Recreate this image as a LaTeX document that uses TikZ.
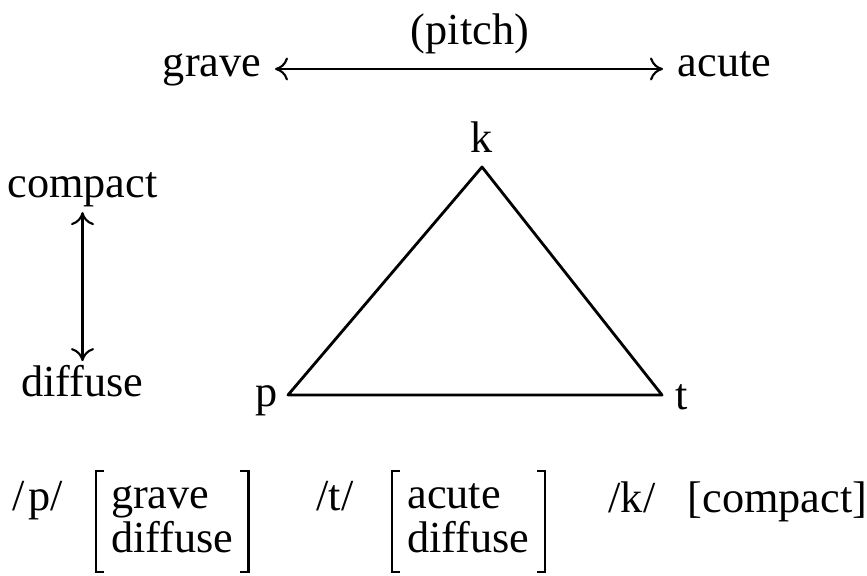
\documentclass[tikz,border=0pt]{standalone}
\usepackage{fontspec}
\setmainfont{Liberation Serif}
\usetikzlibrary{arrows.meta, positioning}

\begin{document}
\begin{tikzpicture}[
    every node/.style={font=\fontsize{12.6pt}{12.8pt}\selectfont, inner sep=0pt},
    lbl/.style={anchor=base},
    feat/.style={inner xsep=0.145cm, inner ysep=0.05cm},
    brk/.style={line width=0.7pt},
    edge/.style={line width=0.8pt, line join=round},
    arrow/.style={{Computer Modern Rightarrow[length=1.3mm, width=2.3mm]}-{Computer Modern Rightarrow[length=1.3mm, width=2.3mm]}, line width=0.6pt}
]
\useasboundingbox (0,0) rectangle (8.67,5.75);

% Nodes
\node[lbl] (pitch) at (4.70,5.30) {(pitch)};
\node[lbl, anchor=base east] (grave) at (2.62,4.98) {grave};
\node[lbl, anchor=base west] (acute) at (6.77,4.98) {acute};

\coordinate (kv) at (4.82,4.08);
\coordinate (pv) at (2.88,1.80);
\coordinate (tv) at (6.62,1.80);
\node[lbl] (k) at (4.82,4.22) {k};
\node[lbl, anchor=base east] (p) at (2.78,1.68) {p};
\node[lbl, anchor=base west] (t) at (6.75,1.65) {t};

\node[lbl] (compact) at (0.825,3.77) {compact};
\node[lbl] (diffuse) at (0.825,1.78) {diffuse};

\node[lbl] (pp) at (0.38,0.65) {/\kern1pt p/};
\node[feat, right=0.32cm of pp.base east, anchor=base west, yshift=0.02cm] (pfeat)
    {\begin{tabular}[t]{@{}l@{}}grave\\diffuse\end{tabular}};
\node[lbl] (tp) at (3.35,0.65) {/t/};
\node[feat, right=0.38cm of tp.base east, anchor=base west, yshift=0.02cm] (tfeat)
    {\begin{tabular}[t]{@{}l@{}}acute\\diffuse\end{tabular}};
\node[lbl] (kp) at (6.32,0.62) {/k/};
\node[lbl, anchor=base west] (kfeat) at (6.87,0.62) {[compact]};

% Paths
\draw[arrow] ([shift={(0.13,0.08)}]grave.base east) -- ([shift={(-0.14,0.08)}]acute.base west);
\draw[arrow] ([yshift=-0.04cm]compact.south) -- ([yshift=0.04cm]diffuse.north);
\draw[edge] (kv) -- (tv) -- (pv) -- cycle;

% Brackets
\foreach \f in {pfeat, tfeat} {
  \draw[brk] ([xshift=0.08cm]\f.north west) -- (\f.north west) -- (\f.south west) -- ++(0.08,0);
  \draw[brk] ([xshift=-0.08cm]\f.north east) -- (\f.north east) -- (\f.south east) -- ++(-0.08,0);
}

\end{tikzpicture}
\end{document}
